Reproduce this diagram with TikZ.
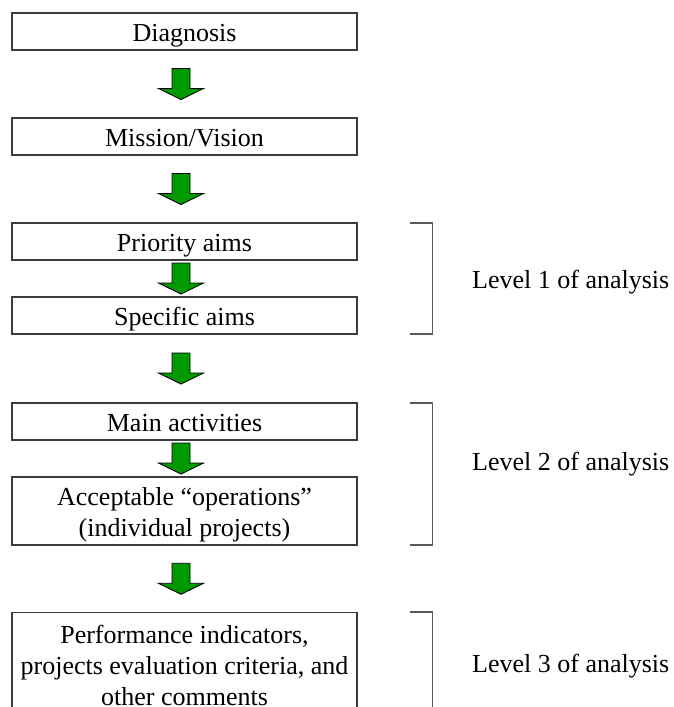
\documentclass[tikz,border=0pt]{standalone}
\usepackage{fontspec}
\setmainfont{Liberation Serif}
\usetikzlibrary{calc}
\definecolor{agreen}{RGB}{0,153,0}
\definecolor{boxline}{RGB}{60,60,60}
\definecolor{brk}{RGB}{90,90,90}
\tikzset{
  stepbox/.style={draw=boxline, line width=1.1pt, minimum width=345pt, inner sep=0pt, align=center,
    font=\fontsize{26}{31}\selectfont, text=black},
  onelinebox/.style={stepbox, minimum height=37pt, text height=21pt, text depth=1.5pt},
  levtext/.style={anchor=base west, inner sep=0pt, font=\fontsize{26}{30}\selectfont},
  garrow/.style={draw=black, line width=0.9pt, fill=agreen, line join=miter},
  brack/.style={draw=brk, line width=1.1pt},
}
\newcommand{\greenarrow}[2]{%
  \coordinate (m) at ($(#1.south)!0.5!(#2.north)+(-3.5pt,0)$);
  \draw[garrow] ([shift={(-9pt,15.5pt)}]m) -- ([shift={(9pt,15.5pt)}]m) -- ([shift={(9pt,-4.5pt)}]m)
    -- ([shift={(22.5pt,-4.5pt)}]m) -- ([shift={(0pt,-15.5pt)}]m) -- ([shift={(-22.5pt,-4.5pt)}]m)
    -- ([shift={(-9pt,-4.5pt)}]m) -- cycle;}
\begin{document}
\begin{tikzpicture}[x=1pt,y=1pt]
\useasboundingbox (0,0) rectangle (673,-707);
\fill[white] (0,0) rectangle (673,-707);
% boxes
\node[onelinebox] (diag) at (184.5,-31.5) {Diagnosis};
\node[onelinebox] (mission) at (184.5,-136.5) {Mission/Vision};
\node[onelinebox] (prio) at (184.5,-241.5) {Priority aims};
\node[onelinebox] (spec) at (184.5,-315.5) {Specific aims};
\node[onelinebox] (main) at (184.5,-421.5) {Main activities};
\node[stepbox, minimum height=68pt] (accept) at (184.5,-511) {\rule{0pt}{26pt}Acceptable ``operations''\\(individual projects)};
\node[stepbox, minimum height=105pt, anchor=north] (perf) at (184.5,-612) {Performance indicators,\\projects evaluation criteria, and\\other comments};
% arrows
\greenarrow{diag}{mission}
\greenarrow{mission}{prio}
\greenarrow{prio}{spec}
\greenarrow{spec}{main}
\greenarrow{main}{accept}
\greenarrow{accept}{perf}
% brackets
\coordinate (b1t) at (410,-223); \coordinate (b1b) at (410,-334);
\coordinate (b2t) at (410,-403); \coordinate (b2b) at (410,-545);
\coordinate (b3t) at (410,-612); \coordinate (b3b) at (410,-720);
\draw[brack] (b1t) -- ++(22.5,0) |- (b1b);
\draw[brack] (b2t) -- ++(22.5,0) |- (b2b);
\draw[brack] (b3t) -- ++(22.5,0) |- (b3b);
% level labels
\node[levtext] (l1) at (472,-288) {Level 1 of analysis};
\node[levtext] (l2) at (472,-470) {Level 2 of analysis};
\node[levtext] (l3) at (472,-672) {Level 3 of analysis};
\end{tikzpicture}
\end{document}
